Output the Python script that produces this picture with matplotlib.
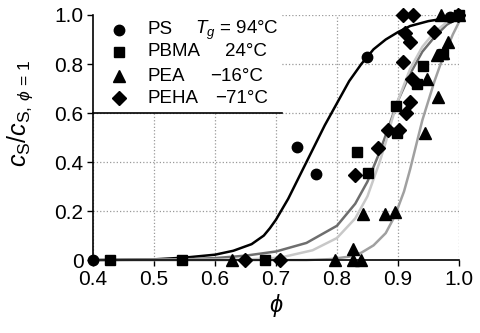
import matplotlib
matplotlib.use('Agg')
import matplotlib.pyplot as plt
from matplotlib.patches import Rectangle

plt.rcParams['font.family'] = ['Liberation Sans', 'DejaVu Sans']
plt.rcParams['mathtext.fontset'] = 'custom'
plt.rcParams['mathtext.rm'] = 'Liberation Sans'
plt.rcParams['mathtext.it'] = 'Liberation Sans:italic'
plt.rcParams['mathtext.fallback'] = 'stixsans'

ps_x = [0.40, 0.735, 0.766, 0.849, 0.985, 1.0]
ps_y = [0.0, 0.46, 0.35, 0.83, 0.99, 1.0]

pbma_x = [0.428, 0.546, 0.682, 0.833, 0.851, 0.897, 0.898, 0.931, 0.941, 0.974, 1.0]
pbma_y = [0.0, 0.0, 0.0, 0.44, 0.355, 0.63, 0.52, 0.72, 0.79, 0.84, 1.0]

pea_x = [0.628, 0.797, 0.826, 0.826, 0.840, 0.843, 0.879, 0.895, 0.944, 0.948,
         0.964, 0.966, 0.974, 0.982, 0.970, 1.0]
pea_y = [0.0, 0.0, 0.045, 0.0, 0.0, 0.19, 0.19, 0.195, 0.52, 0.74,
         0.837, 0.665, 0.845, 0.89, 1.0, 1.0]

peha_x = [0.649, 0.707, 0.830, 0.867, 0.884, 0.902, 0.913, 0.920, 0.923, 0.908,
          0.920, 0.911, 0.908, 0.925, 0.960, 0.998]
peha_y = [0.0, 0.0, 0.347, 0.457, 0.53, 0.53, 0.60, 0.645, 0.74, 0.81,
          0.89, 0.925, 1.0, 1.0, 0.93, 1.0]

# fitted curves
ps_fit_x = [0.40, 0.50, 0.55, 0.60, 0.63, 0.66, 0.68, 0.69, 0.70, 0.72, 0.74,
            0.76, 0.78, 0.80, 0.82, 0.84, 0.86, 0.88, 0.90, 0.92, 0.95, 1.0]
ps_fit_y = [0.0, 0.003, 0.01, 0.022, 0.038, 0.065, 0.1, 0.13, 0.165, 0.25, 0.35,
            0.45, 0.55, 0.64, 0.73, 0.80, 0.86, 0.90, 0.93, 0.955, 0.975, 0.995]

pbma_fit_x = [0.40, 0.55, 0.60, 0.65, 0.70, 0.75, 0.80, 0.83, 0.85, 0.87, 0.88,
              0.89, 0.90, 0.92, 0.94, 0.96, 0.98, 1.0]
pbma_fit_y = [0.0, 0.003, 0.008, 0.018, 0.035, 0.07, 0.14, 0.23, 0.32, 0.44, 0.51,
              0.58, 0.65, 0.76, 0.85, 0.91, 0.96, 0.99]

pea_fit_x = [0.40, 0.75, 0.79, 0.82, 0.84, 0.86, 0.88, 0.895, 0.91, 0.92, 0.93,
             0.94, 0.95, 0.96, 0.97, 0.98, 0.99, 1.0]
pea_fit_y = [0.0, 0.0, 0.004, 0.014, 0.03, 0.06, 0.11, 0.18, 0.28, 0.37, 0.47,
             0.57, 0.65, 0.73, 0.80, 0.86, 0.92, 0.97]

peha_fit_x = [0.40, 0.65, 0.707, 0.76, 0.80, 0.83, 0.85, 0.87, 0.88, 0.89, 0.90,
              0.92, 0.94, 0.96, 0.98, 1.0]
peha_fit_y = [0.0, 0.002, 0.01, 0.04, 0.09, 0.17, 0.26, 0.40, 0.48, 0.57, 0.65,
              0.78, 0.87, 0.93, 0.97, 0.995]

names = ['PS', 'PBMA', 'PEA', 'PEHA']
tg_labels = ['$T_g$ = 94°C', '24°C', '\u221216°C', '\u221271°C']
markers = ['o', 's', '^', 'D']
sizes = [7.5, 7.5, 8, 7]
fit_colors = ['black', '#6e6e6e', '#a0a0a0', '#c8c8c8']

fig = plt.figure(figsize=(4.8, 3.33), dpi=100)
ax = fig.add_axes([0.194, 0.219, 0.762, 0.736])

fits = [(ps_fit_x, ps_fit_y), (pbma_fit_x, pbma_fit_y),
        (pea_fit_x, pea_fit_y), (peha_fit_x, peha_fit_y)]
for (fx, fy), c in zip(fits, fit_colors):
    ax.plot(fx, fy, color=c, lw=1.8, zorder=2, clip_on=False)

data = [(ps_x, ps_y), (pbma_x, pbma_y), (pea_x, pea_y), (peha_x, peha_y)]
for (dx, dy), m, s in zip(data, markers, sizes):
    ax.plot(dx, dy, ls='none', marker=m, ms=s, color='black', zorder=3, clip_on=False)

ax.set_xlim(0.4, 1.0)
ax.set_ylim(0, 1.0)
ax.set_xticks([0.4, 0.5, 0.6, 0.7, 0.8, 0.9, 1.0])
ax.set_yticks([0, 0.2, 0.4, 0.6, 0.8, 1.0])
ax.set_yticklabels(['0', '0.2', '0.4', '0.6', '0.8', '1.0'])
ax.tick_params(labelsize=15, length=4, width=1, direction='out', pad=3)
ax.grid(True, linestyle=':', color='#999999', lw=0.9)
ax.spines['top'].set_visible(False)
ax.spines['right'].set_visible(False)
ax.spines['left'].set_linewidth(1.2)
ax.spines['bottom'].set_linewidth(1.2)

ax.set_xlabel(r'$\phi$', fontsize=17, labelpad=2)
ax.set_ylabel(r'$c_\mathrm{S}/c_{\mathrm{S},\,\phi\,=\,1}$', fontsize=18)
ax.yaxis.set_label_coords(-0.16, 0.6)

# legend panel
ax.add_patch(Rectangle((0, 0.6), 0.516, 0.5, transform=ax.transAxes,
                       facecolor='white', edgecolor='none', zorder=1.8, clip_on=False))
ax.plot([0, 0.516], [0.6, 0.6], transform=ax.transAxes, color='black', lw=1.2,
        zorder=1.9, clip_on=False)

row_y = [0.939, 0.849, 0.751, 0.661]
tg_x = [0.279, 0.361, 0.32, 0.333]
for name, tg, m, s, yy, tx in zip(names, tg_labels, markers, sizes, row_y, tg_x):
    ax.plot([0.071], [yy], transform=ax.transAxes, ls='none', marker=m, ms=s,
            color='black', clip_on=False, zorder=4)
    ax.text(0.148, yy, name, transform=ax.transAxes, fontsize=13.5, va='center', ha='left')
    ax.text(tx, yy, tg, transform=ax.transAxes, fontsize=13.5, va='center', ha='left')

fig.savefig('out.png', dpi=100)
